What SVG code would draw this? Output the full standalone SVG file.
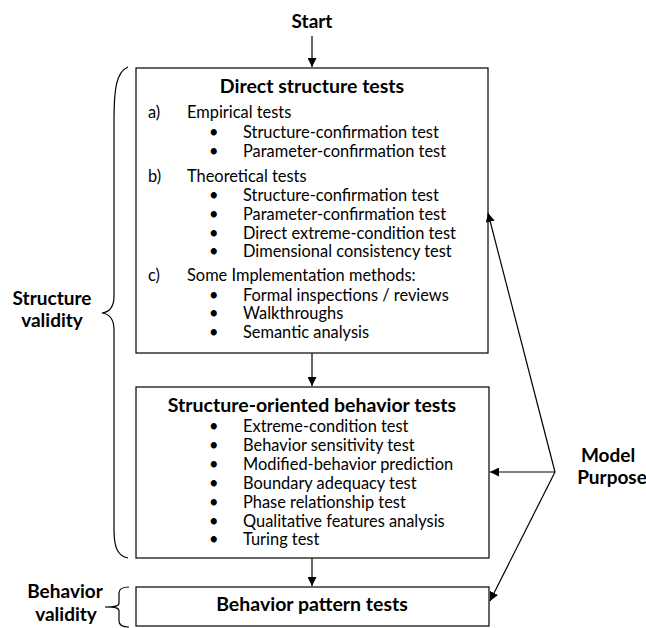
<svg xmlns="http://www.w3.org/2000/svg" width="646" height="628" viewBox="0 0 646 628">
  <style>
    .box { fill: #fff; stroke: #000; stroke-width: 1.2; }
    .title { font-family: Lato, "Liberation Sans", sans-serif; font-weight: bold; font-size: 19.5px; fill: #000; text-anchor: middle; }
    .body { font-family: Lato, "Liberation Sans", sans-serif; font-size: 16.4px; fill: #000; }
    .lbl { font-family: Lato, "Liberation Sans", sans-serif; font-weight: bold; font-size: 19px; fill: #000; text-anchor: middle; }
    .line { fill: none; stroke: #000; stroke-width: 1.2; }
    .brace { fill: none; stroke: #000; stroke-width: 1.2; }
  </style>
  <defs>
    <marker id="arrow" viewBox="0 0 10 10" refX="10" refY="5" markerWidth="9" markerHeight="9" markerUnits="userSpaceOnUse" orient="auto">
      <path d="M0,0 L10,5 L0,10 Z" fill="#000"/>
    </marker>
  </defs>

  <!-- start label -->
  <g id="start">
    <text class="lbl" x="312" y="28">Start</text>
  </g>

  <!-- direct structure tests -->
  <g id="direct-structure">
    <rect class="box" x="136" y="68" width="352" height="285"/>
    <text class="title" x="312" y="93">Direct structure tests</text>
    <g class="body">
      <text x="148" y="118">a)</text>
      <text x="187" y="118">Empirical tests</text>
      <text x="209" y="138">•</text><text x="243" y="138">Structure-confirmation test</text>
      <text x="209" y="157">•</text><text x="243" y="157">Parameter-confirmation test</text>
      <text x="148" y="182">b)</text>
      <text x="187" y="182">Theoretical tests</text>
      <text x="209" y="201">•</text><text x="243" y="201">Structure-confirmation test</text>
      <text x="209" y="220">•</text><text x="243" y="220">Parameter-confirmation test</text>
      <text x="209" y="239">•</text><text x="243" y="239">Direct extreme-condition test</text>
      <text x="209" y="257">•</text><text x="243" y="257">Dimensional consistency test</text>
      <text x="148" y="281">c)</text>
      <text x="187" y="281">Some Implementation methods:</text>
      <text x="209" y="301">•</text><text x="243" y="301">Formal inspections / reviews</text>
      <text x="209" y="319">•</text><text x="243" y="319">Walkthroughs</text>
      <text x="209" y="338">•</text><text x="243" y="338">Semantic analysis</text>
    </g>
  </g>

  <!-- structure-oriented behavior tests -->
  <g id="structure-oriented">
    <rect class="box" x="136" y="387" width="353" height="171"/>
    <text class="title" x="312" y="412">Structure-oriented behavior tests</text>
    <g class="body">
      <text x="209" y="432">•</text><text x="243" y="432">Extreme-condition test</text>
      <text x="209" y="451">•</text><text x="243" y="451">Behavior sensitivity test</text>
      <text x="209" y="470">•</text><text x="243" y="470">Modified-behavior prediction</text>
      <text x="209" y="489">•</text><text x="243" y="489">Boundary adequacy test</text>
      <text x="209" y="508">•</text><text x="243" y="508">Phase relationship test</text>
      <text x="209" y="527">•</text><text x="243" y="527">Qualitative features analysis</text>
      <text x="209" y="545">•</text><text x="243" y="545">Turing test</text>
    </g>
  </g>

  <!-- behavior pattern tests -->
  <g id="behavior-pattern">
    <rect class="box" x="136" y="587" width="353" height="39"/>
    <text class="title" x="312" y="611">Behavior pattern tests</text>
  </g>

  <!-- side labels with braces -->
  <g id="structure-validity">
    <path class="brace" d="M128,67 C116,72 114,90 114,120 L114,296 C114,306 110,312 102,313 C110,314 114,320 114,330 L114,530 C114,548 118,556 128,558"/>
    <text class="lbl" x="52" y="305">Structure</text>
    <text class="lbl" x="52" y="327">validity</text>
  </g>
  <g id="behavior-validity">
    <path class="brace" d="M129,587 C122,587 119,589 119,593 L119,603 C119,606 116,607 105,607 C116,607 119,608 119,611 L119,621 C119,625 122,627 129,627"/>
    <text class="lbl" x="65" y="598">Behavior</text>
    <text class="lbl" x="66" y="621">validity</text>
  </g>
  <g id="model-purpose">
    <text class="lbl" x="608" y="462">Model</text>
    <text class="lbl" x="612" y="484">Purpose</text>
  </g>

  <!-- connectors -->
  <g id="connectors">
    <line class="line" x1="312" y1="36" x2="312" y2="67" marker-end="url(#arrow)"/>
    <line class="line" x1="312" y1="353" x2="312" y2="386" marker-end="url(#arrow)"/>
    <line class="line" x1="312" y1="558" x2="312" y2="586" marker-end="url(#arrow)"/>
    <line class="line" x1="555" y1="472" x2="488" y2="213" marker-end="url(#arrow)"/>
    <line class="line" x1="555" y1="472" x2="490" y2="472" marker-end="url(#arrow)"/>
    <line class="line" x1="555" y1="472" x2="490" y2="601" marker-end="url(#arrow)"/>
  </g>
</svg>
